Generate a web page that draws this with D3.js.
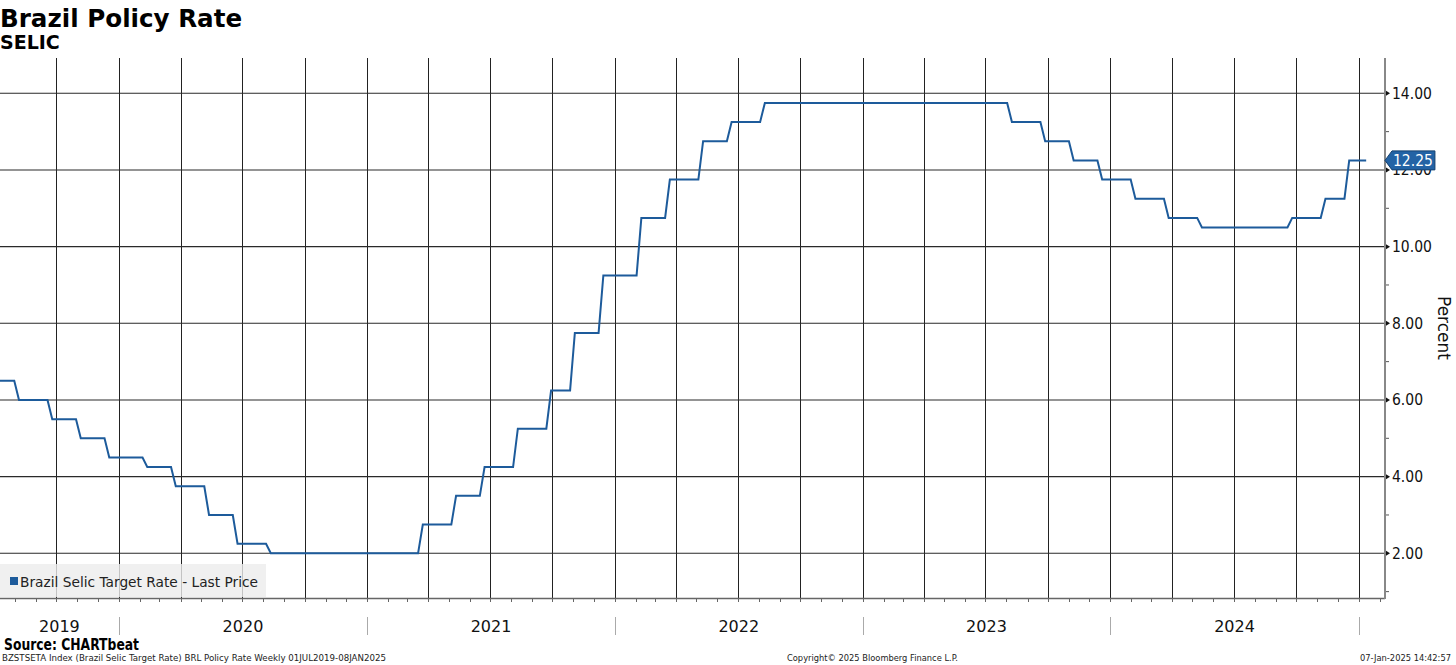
<html>
<script src="https://cdn.jsdelivr.net/npm/d3@7"></script>
<style>
body { margin: 0; background: #fff; }
text { font-family: "DejaVu Sans", sans-serif; }
.cond { font-family: "DejaVu Sans Condensed", "DejaVu Sans", sans-serif; font-stretch: condensed; }
</style>
<body>
<svg id="chart" width="1456" height="665"></svg>
<script>
// Selic target rate, weekly series drawn as steps (date of change, new rate)
var startDate = "2019-07-10", startRate = 6.50, endDate = "2025-01-12";
var changeDates = ["2019-07-31","2019-09-18","2019-10-30","2019-12-11","2020-02-05","2020-03-18",
  "2020-05-06","2020-06-17","2020-08-05","2021-03-17","2021-05-05","2021-06-16","2021-08-04",
  "2021-09-22","2021-10-27","2021-12-08","2022-02-02","2022-03-16","2022-05-04","2022-06-15",
  "2022-08-03","2023-08-02","2023-09-20","2023-11-01","2023-12-13","2024-01-31","2024-03-20",
  "2024-05-08","2024-09-18","2024-11-06","2024-12-11"];
var changeRates = [6.00,5.50,5.00,4.50,4.25,3.75,3.00,2.25,2.00,2.75,3.50,4.25,5.25,6.25,7.75,
  9.25,10.75,11.75,12.75,13.25,13.75,13.25,12.75,12.25,11.75,11.25,10.75,10.50,10.75,11.25,12.25];
var yTicks = [2,4,6,8,10,12,14];
var yMinor = [1,3,5,7,9,11,13];
var yearLabels = ["2019","2020","2021","2022","2023","2024"];
var lastLabel = "12.25";

var parse = d3.timeParse("%Y-%m-%d");
var svg = d3.select("#chart");
var blue = "#1d5b9b";

var x = d3.scaleTime()
  .domain([parse("2019-07-10"), parse("2025-02-08")])
  .range([0, 1384.5]);
var y = d3.scaleLinear().domain([0.834, 14.921]).range([598, 58]);

// titles
svg.append("text").attr("x", 0).attr("y", 26.5).attr("font-size", 24.6).attr("font-weight", "bold")
  .text("Brazil Policy Rate");
svg.append("text").attr("x", 0).attr("y", 49).attr("font-size", 19).attr("font-weight", "bold")
  .text("SELIC");

// vertical grid (quarters)
var quarters = d3.timeMonth.every(3).range(x.domain()[0], x.domain()[1]);
svg.append("g").selectAll("line").data(quarters).enter().append("line")
  .attr("x1", function(d){ return Math.round(x(d)) + 0.5; })
  .attr("x2", function(d){ return Math.round(x(d)) + 0.5; })
  .attr("y1", 58).attr("y2", 598).attr("stroke", "#222").attr("stroke-width", 1);

// horizontal grid
svg.append("g").selectAll("line").data(yTicks).enter().append("line")
  .attr("x1", 0).attr("x2", 1384).attr("y1", function(d){ return y(d); }).attr("y2", function(d){ return y(d); })
  .attr("stroke", "#2a2a2a").attr("stroke-width", 1.1);

// legend box
svg.append("rect").attr("x", 0).attr("y", 564).attr("width", 266).attr("height", 33)
  .attr("fill", "#ececec").attr("fill-opacity", 0.8);
svg.append("rect").attr("x", 10).attr("y", 577).attr("width", 8).attr("height", 8).attr("fill", blue);
svg.append("text").attr("x", 20).attr("y", 586.5).attr("font-size", 14.5).attr("fill", "#222")
  .attr("textLength", 238).attr("lengthAdjust", "spacingAndGlyphs")
  .text("Brazil Selic Target Rate - Last Price");

// line
var pts = [{d: parse(startDate), v: startRate}];
var prev = startRate;
changeDates.forEach(function(ds, i){
  var d = parse(ds);
  pts.push({d: d, v: prev});
  pts.push({d: d3.timeDay.offset(d, 7), v: changeRates[i]});
  prev = changeRates[i];
});
pts.push({d: parse(endDate), v: prev});

svg.append("path").datum(pts)
  .attr("fill", "none").attr("stroke", blue).attr("stroke-width", 2)
  .attr("d", d3.line().x(function(p){ return x(p.d); }).y(function(p){ return y(p.v); }));

// bottom axis line and month ticks
svg.append("line").attr("x1", 0).attr("x2", 1385).attr("y1", 598.5).attr("y2", 598.5)
  .attr("stroke", "#666").attr("stroke-width", 1.5);
var months = d3.timeMonth.range(x.domain()[0], x.domain()[1]);
svg.append("g").selectAll("line").data(months).enter().append("line")
  .attr("x1", function(d){ return Math.round(x(d)) + 0.5; })
  .attr("x2", function(d){ return Math.round(x(d)) + 0.5; })
  .attr("y1", 598).attr("y2", 602).attr("stroke", "#666");

// right axis
svg.append("line").attr("x1", 1385).attr("x2", 1385).attr("y1", 58).attr("y2", 599)
  .attr("stroke", "#888").attr("stroke-width", 2);
var ra = svg.append("g");
ra.selectAll("path").data(yTicks).enter().append("path")
  .attr("d", function(d){ var yy = y(d); return "M1386," + (yy-2.5) + "L1390," + yy + "L1386," + (yy+2.5) + "Z"; })
  .attr("fill", "#111");
ra.selectAll("line").data(yMinor).enter().append("line")
  .attr("x1", 1386).attr("x2", 1389).attr("y1", function(d){ return y(d); }).attr("y2", function(d){ return y(d); })
  .attr("stroke", "#555");
ra.selectAll("text").data(yTicks).enter().append("text")
  .attr("class", "cond")
  .attr("x", 1392).attr("y", function(d){ return y(d) + 5.5; }).attr("font-size", 15.5).attr("fill", "#111")
  .text(function(d){ return d.toFixed(2); });

svg.append("text").attr("transform", "translate(1438,328) rotate(90)").attr("text-anchor", "middle")
  .attr("font-size", 17).attr("fill", "#111").text("Percent");

// last value tag
var ly = y(changeRates[changeRates.length - 1]);
var tag = svg.append("g");
var tagPath = tag.append("path")
  .attr("fill", "#2363a5").attr("stroke", "#15406e").attr("stroke-width", 1);
var tagText = tag.append("text").attr("class", "cond").attr("x", 1393).attr("y", ly + 5.5)
  .attr("font-size", 15.5).attr("fill", "#fff").text(lastLabel);
var tw = tagText.node().getComputedTextLength();
var tr = 1393 + tw + 2;
tagPath.attr("d", "M1385," + ly + "L1392," + (ly-9.5) + "L" + tr + "," + (ly-9.5) + "L" + tr + "," + (ly+9.5) +
  "L1392," + (ly+9.5) + "Z");

// year labels and separators
var years = yearLabels.map(function(s){ return parse(s + "-01-01"); });
svg.append("g").selectAll("line").data(years.slice(1).concat([parse("2025-01-01")])).enter().append("line")
  .attr("x1", function(d){ return Math.round(x(d)) + 0.5; })
  .attr("x2", function(d){ return Math.round(x(d)) + 0.5; })
  .attr("y1", 617).attr("y2", 635).attr("stroke", "#aaa");
svg.append("g").selectAll("text").data(yearLabels).enter().append("text")
  .attr("x", function(s){
    var a = Math.max(x(parse(s + "-01-01")), 0), b = x(parse((+s + 1) + "-01-01"));
    return (a + b) / 2;
  })
  .attr("y", 632).attr("text-anchor", "middle").attr("font-size", 16).attr("fill", "#111")
  .text(function(s){ return s; });

// footer
svg.append("text").attr("x", 4).attr("y", 649.5).attr("font-size", 15).attr("font-weight", "bold")
  .attr("textLength", 135).attr("lengthAdjust", "spacingAndGlyphs")
  .text("Source: CHARTbeat");
svg.append("text").attr("x", 2).attr("y", 661).attr("font-size", 9.5).attr("fill", "#222")
  .attr("textLength", 384).attr("lengthAdjust", "spacingAndGlyphs")
  .text("BZSTSETA Index (Brazil Selic Target Rate) BRL Policy Rate  Weekly 01JUL2019-08JAN2025");
svg.append("text").attr("x", 787).attr("y", 661).attr("font-size", 9.5).attr("fill", "#222")
  .attr("textLength", 171).attr("lengthAdjust", "spacingAndGlyphs")
  .text("Copyright\u00a9 2025 Bloomberg Finance L.P.");
svg.append("text").attr("x", 1360).attr("y", 661).attr("font-size", 9.5).attr("fill", "#222")
  .attr("textLength", 91).attr("lengthAdjust", "spacingAndGlyphs")
  .text("07-Jan-2025 14:42:57");
</script>
</body>
</html>
